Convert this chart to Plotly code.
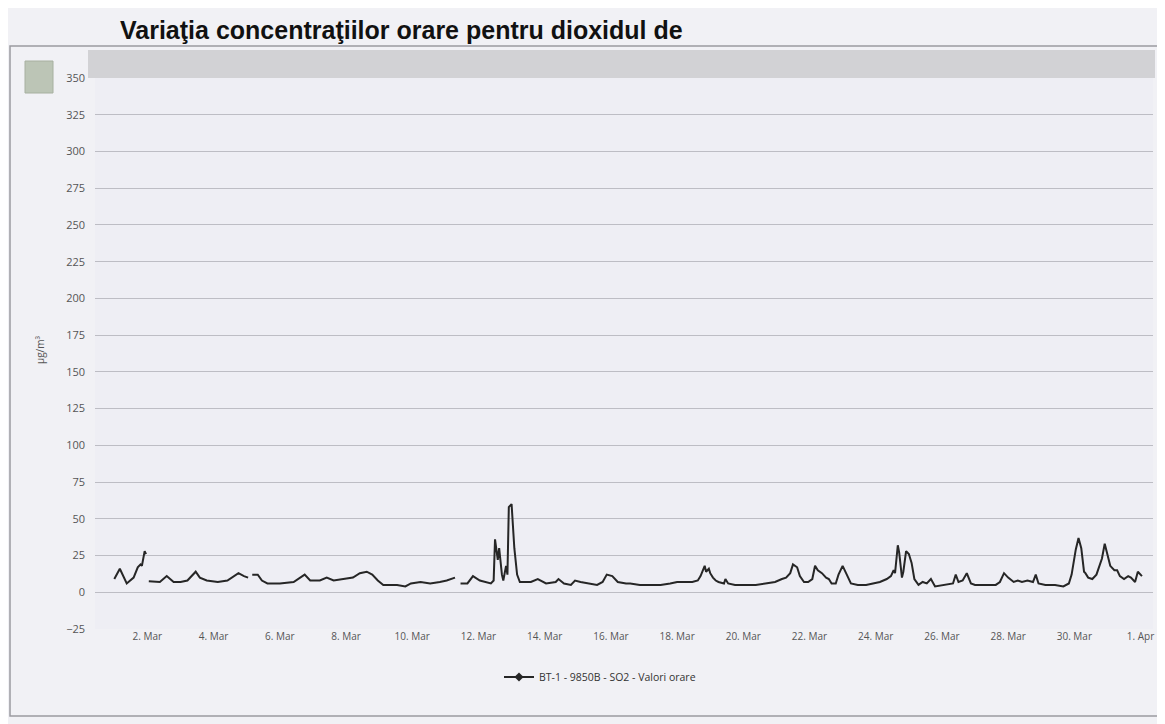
import datetime as dt
import plotly.graph_objects as go

# ---- data ----
# hours since 1 Mar 00:00, and SO2 hourly concentration (µg/m³); None = gap
hours = [0, 4, 9, 14, 17, 19, 20, 22, 23, 24, 25, 30, 33, 38, 43, 48, 53, 59, 62, 67,
         75, 82, 90, 94, 97, 99, 100, 104, 107, 111, 120, 130, 138, 142, 149, 154, 159, 166, 173, 178,
         183, 187, 191, 195, 200, 205, 211, 215, 222, 229, 236, 241, 247, 249, 251, 256, 260, 265, 273, 275,
         276, 278, 279, 281, 282, 284, 285, 286, 288, 290, 292, 294, 302, 307, 313, 320, 322, 326, 331, 334,
         338, 345, 350, 354, 357, 361, 365, 371, 374, 381, 389, 396, 403, 408, 414, 419, 423, 425, 428, 429,
         431, 432, 434, 436, 438, 442, 443, 445, 450, 458, 465, 472, 479, 484, 487, 490, 492, 495, 497, 500,
         503, 506, 508, 510, 513, 516, 518, 520, 523, 525, 528, 531, 534, 539, 545, 550, 555, 560, 563, 565,
         566, 568, 569, 571, 572, 574, 576, 578, 580, 583, 586, 589, 592, 595, 603, 608, 610, 612, 615, 618,
         621, 624, 632, 639, 642, 645, 648, 652, 655, 658, 662, 666, 668, 670, 675, 682, 688, 692, 694, 697,
         699, 701, 703, 704, 706, 709, 712, 714, 716, 718, 720, 722, 725, 727, 729, 732, 735, 737, 740, 742,
         745]
so2 = [9, 16, 6, 10, 17, 19, 18, 28, 26, None, 7.5, 7, 7, 11, 7, 7, 8, 14, 10, 8,
       7, 8, 13, 11, 10, None, 12, 12, 8, 6, 6, 7, 12, 8, 8, 10, 8, 9, 10, 13,
       14, 12, 8, 5, 5, 5, 4, 6, 7, 6, 7, 8, 10, None, 6, 6, 11, 8, 6, 8,
       36, 22, 30, 12, 8, 18, 12, 58, 60, 30, 12, 7, 7, 9, 6, 7, 9, 6, 5, 8,
       7, 6, 5, 7, 12, 11, 7, 6, 6, 5, 5, 5, 6, 7, 7, 7, 8, 11, 18, 14,
       16, 13, 10, 8, 7, 6, 9, 6, 5, 5, 5, 6, 7, 9, 10, 13, 19, 17, 11, 7,
       7, 9, 18, 15, 13, 10, 9, 6, 6, 12, 18, 12, 6, 5, 5, 6, 7, 9, 11, 15,
       13, 32, 27, 10, 14, 28, 26, 20, 9, 5, 7, 6, 9, 4, 5, 6, 12, 7, 8, 13,
       6, 5, 5, 5, 7, 13, 10, 7, 8, 7, 8, 7, 12, 6, 5, 5, 4, 6, 12, 29,
       37, 30, 14, 13, 10, 9, 12, 17, 23, 33, 25, 18, 15, 15, 11, 9, 11, 10, 7, 14,
       11]

tick_days = [2, 4, 6, 8, 10, 12, 14, 16, 18, 20, 22, 24, 26, 28, 30, 32]
tick_labels = ["2. Mar", "4. Mar", "6. Mar", "8. Mar", "10. Mar", "12. Mar", "14. Mar", "16. Mar",
               "18. Mar", "20. Mar", "22. Mar", "24. Mar", "26. Mar", "28. Mar", "30. Mar", "1. Apr"]
y_ticks = [-25, 0, 25, 50, 75, 100, 125, 150, 175, 200, 225, 250, 275, 300, 325, 350]

series_name = "BT-1 - 9850B - SO2 - Valori orare"
title_text = "Variaţia concentraţiilor orare pentru dioxidul de"
y_title = "µg/m³"

# ---- figure ----
base = dt.datetime(2021, 3, 1)
xs = [base + dt.timedelta(hours=h) for h in hours]
tickvals = [base + dt.timedelta(days=d - 1) for d in tick_days]

# page body adds an 8px margin; design in reference pixels, then shift
OFF = 8
W, H = 1165 - OFF, 724 - OFF
PL, PR, PT, PB = 95, 1153, 78, 629          # plot box in reference pixels
ML, MR, MT, MB = PL - OFF, W - (PR - OFF), PT - OFF, H - (PB - OFF)
PW, PH = W - ML - MR, H - MT - MB


def fx(px):
    return (px - PL) / PW


def fy(py):
    return (PB - py) / PH


fig = go.Figure()
fig.add_trace(go.Scatter(x=xs, y=so2, mode="lines", connectgaps=False,
                         line=dict(color="#262626", width=2), showlegend=False,
                         name=series_name))
fig.add_trace(go.Scatter(x=[None], y=[None], mode="lines+markers", name=series_name,
                         line=dict(color="#262626", width=2),
                         marker=dict(symbol="diamond", size=7, color="#262626")))

fig.update_layout(
    width=W, height=H,
    margin=dict(l=ML, r=MR, t=MT, b=MB, autoexpand=False),
    paper_bgcolor="#f1f1f5", plot_bgcolor="#eeeef4",
    font=dict(family="Open Sans, sans-serif", color="#555"),
    xaxis=dict(range=[base - dt.timedelta(hours=14), base + dt.timedelta(hours=753)],
               tickvals=tickvals, ticktext=tick_labels, showgrid=False, zeroline=False,
               showline=False, tickfont=dict(size=10, color="#555"), ticks=""),
    yaxis=dict(range=[-25, 350], tickvals=y_ticks, showgrid=True, gridcolor="#bdbdc4",
               gridwidth=1, zeroline=False, showline=False, ticks="",
               tickfont=dict(size=11, color="#555"), ticklabelstandoff=9),
    legend=dict(orientation="h", x=fx(600), xanchor="center", y=fy(677), yanchor="middle",
                font=dict(size=10.5, color="#333"), bgcolor="rgba(0,0,0,0)", itemwidth=30),
    showlegend=True,
)

shapes = [
    # outer chart frame
    dict(type="rect", xref="paper", yref="paper", x0=fx(10), x1=fx(1159), y0=fy(716), y1=fy(46),
         line=dict(color="#9a9aa0", width=1.5), fillcolor="rgba(0,0,0,0)", layer="below"),
    # grey header band
    dict(type="rect", xref="paper", yref="paper", x0=fx(88), x1=fx(1155), y0=fy(78), y1=fy(50),
         line=dict(width=0), fillcolor="#d2d2d5", layer="below"),
    # export button
    dict(type="rect", xref="paper", yref="paper", x0=fx(25), x1=fx(53), y0=fy(93), y1=fy(61),
         line=dict(color="#a7b0a0", width=1), fillcolor="#bcc5b6", layer="above"),
]
fig.update_layout(shapes=shapes)

fig.add_annotation(text="<b>" + title_text + "</b>", xref="paper", yref="paper",
                   x=fx(118), y=fy(46), xanchor="left", yanchor="bottom", showarrow=False,
                   font=dict(family="Liberation Sans, Arial, sans-serif", size=25, color="#111"))
fig.add_annotation(text=y_title, xref="paper", yref="paper", x=fx(40), y=fy(350),
                   xanchor="center", yanchor="middle", showarrow=False, textangle=-90,
                   font=dict(size=10, color="#555"))

fig.write_html("out.html")
